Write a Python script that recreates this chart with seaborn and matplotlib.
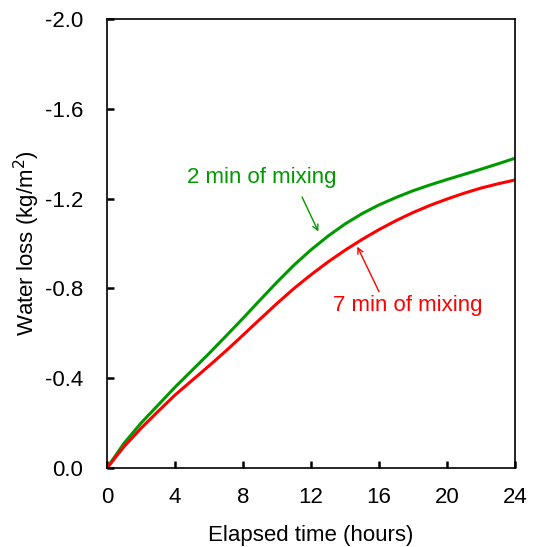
import pandas as pd
import matplotlib.pyplot as plt
import seaborn as sns
from matplotlib.ticker import FormatStrFormatter

# Values (water loss in kg/m2, negative = loss)
hours = list(range(0, 25))
loss_2min = [0.0, -0.11, -0.20, -0.28, -0.36, -0.435, -0.51, -0.588, -0.667, -0.748,
             -0.828, -0.904, -0.972, -1.033, -1.087, -1.133, -1.172, -1.205, -1.235,
             -1.261, -1.285, -1.308, -1.331, -1.355, -1.38]
loss_7min = [0.0, -0.095, -0.177, -0.252, -0.325, -0.39, -0.455, -0.522, -0.592, -0.663,
             -0.733, -0.800, -0.861, -0.918, -0.970, -1.018, -1.062, -1.102, -1.138,
             -1.170, -1.198, -1.224, -1.247, -1.266, -1.283]
series_names = ['2 min of mixing', '7 min of mixing']
series_colors = ['#009900', '#ff0000']
y_ticks = [0.0, -0.4, -0.8, -1.2, -1.6, -2.0]
x_ticks = [0, 4, 8, 12, 16, 20, 24]

df = pd.DataFrame({
    'hours': hours * 2,
    'loss': loss_2min + loss_7min,
    'mix': [series_names[0]] * len(hours) + [series_names[1]] * len(hours),
})

sns.set_style('ticks', {'axes.edgecolor': 'black', 'text.color': 'black',
                        'xtick.color': 'black', 'ytick.color': 'black',
                        'axes.labelcolor': 'black'})
plt.rcParams['font.family'] = ['Liberation Sans', 'DejaVu Sans']
plt.rcParams['axes.unicode_minus'] = False

fig = plt.figure(figsize=(5.36, 5.47), dpi=100)
ax = fig.add_axes([0.1996, 0.1444, 0.7614, 0.8209])

sns.lineplot(data=df, x='hours', y='loss', hue='mix', palette=series_colors,
             linewidth=2.2, legend=False, ax=ax)

ax.set_xlim(0, 24)
ax.set_ylim(0, -2.0)
ax.set_xticks(x_ticks)
ax.set_yticks(y_ticks)
ax.yaxis.set_major_formatter(FormatStrFormatter('%.1f'))
ax.xaxis.set_tick_params(which='major', direction='in', length=5, width=1.8,
                         color='black', bottom=True, top=False, labelsize=16, pad=14)
ax.yaxis.set_tick_params(which='major', direction='in', length=5, width=1.8,
                         color='black', left=True, right=False, labelsize=16, pad=17)
for sp in ax.spines.values():
    sp.set_visible(True)
    sp.set_color('black')
    sp.set_linewidth(1.2)

ax.set_xlabel('Elapsed time (hours)', fontsize=16, labelpad=12)
ax.set_ylabel('Water loss (kg/m$^2$)', fontsize=16, labelpad=2)

# labels and arrows
ax.text(9.08, -1.292, series_names[0], color=series_colors[0], fontsize=16,
        ha='center', va='center')
ax.annotate('', xy=(12.43, -1.053), xytext=(11.47, -1.207),
            arrowprops=dict(arrowstyle='->', color=series_colors[0], lw=1,
                            shrinkA=0, shrinkB=0))
ax.text(17.7, -0.722, series_names[1], color=series_colors[1], fontsize=16,
        ha='center', va='center')
ax.annotate('', xy=(14.72, -0.986), xytext=(16.0, -0.785),
            arrowprops=dict(arrowstyle='->', color=series_colors[1], lw=1,
                            shrinkA=0, shrinkB=0))

fig.savefig('out.png', dpi=100)
